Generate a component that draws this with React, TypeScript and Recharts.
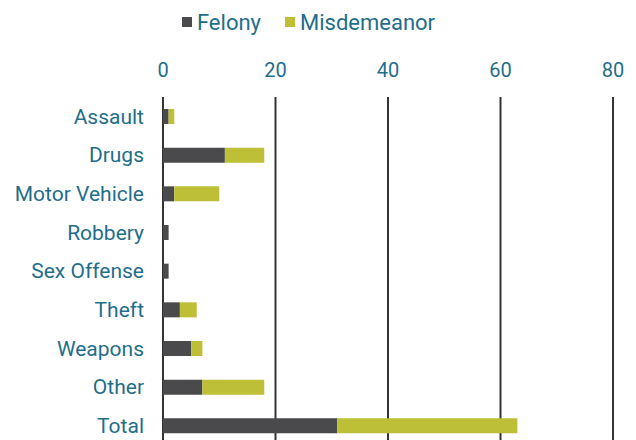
import * as React from 'react';
import { BarChart, Bar, XAxis, YAxis, CartesianGrid, Legend } from 'recharts';

const categories = ['Assault', 'Drugs', 'Motor Vehicle', 'Robbery', 'Sex Offense', 'Theft', 'Weapons', 'Other', 'Total'];
const felony = [1, 11, 2, 1, 1, 3, 5, 7, 31];
const misdemeanor = [1, 7, 8, 0, 0, 3, 2, 11, 32];
const xTicks = [0, 20, 40, 60, 80];

const TEAL = '#1f6e8a';
const FELONY_COLOR = '#4a4a4c';
const MISD_COLOR = '#bdbf37';

const data = categories.map((name, i) => ({
  name,
  felony: felony[i],
  misdemeanor: misdemeanor[i],
}));

// Legend with square markers, spaced like the original
function ChartLegend() {
  const items = [
    { label: 'Felony', color: FELONY_COLOR },
    { label: 'Misdemeanor', color: MISD_COLOR },
  ];
  return (
    <div style={{ display: 'flex', justifyContent: 'center', height: 30, alignItems: 'center', paddingLeft: 4 }}>
      {items.map((it, i) => (
        <div key={it.label} style={{ display: 'flex', alignItems: 'center', marginLeft: i ? 24 : 0 }}>
          <span style={{ width: 10, height: 10, background: it.color, display: 'inline-block', marginRight: 5 }} />
          <span style={{ color: TEAL, fontSize: 22 }}>{it.label}</span>
        </div>
      ))}
    </div>
  );
}

export default function App() {
  return (
    <div style={{ position: 'fixed', top: 0, left: 0, width: 636, height: 440, overflow: 'hidden', background: '#fff', fontFamily: 'Roboto, sans-serif' }}>
      <BarChart
        width={636}
        height={460}
        data={data}
        layout="vertical"
        margin={{ top: 7, right: 23, bottom: 15, left: 0 }}
        barSize={15}
      >
        <Legend verticalAlign="top" align="center" content={() => <ChartLegend />} />
        <CartesianGrid horizontal={false} stroke="#333" strokeWidth={2} />
        <XAxis
          type="number"
          orientation="top"
          domain={[0, 80]}
          ticks={xTicks}
          height={60}
          axisLine={false}
          tickLine={false}
          tickMargin={14}
          tick={{ fill: TEAL, fontSize: 20 }}
        />
        <YAxis
          type="category"
          dataKey="name"
          width={163}
          axisLine={false}
          tickLine={false}
          tickMargin={13}
          tick={{ fill: TEAL, fontSize: 21 }}
        />
        <Bar dataKey="felony" stackId="a" fill={FELONY_COLOR} isAnimationActive={false} />
        <Bar dataKey="misdemeanor" stackId="a" fill={MISD_COLOR} isAnimationActive={false} />
      </BarChart>
    </div>
  );
}
